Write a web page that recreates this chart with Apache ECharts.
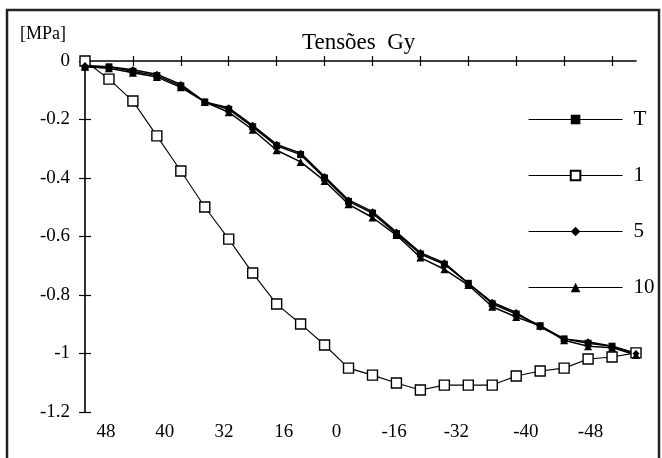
<!DOCTYPE html>
<html>
<head>
<meta charset="utf-8">
<script src="https://cdn.jsdelivr.net/npm/echarts@6/dist/echarts.min.js"></script>
<style>
html,body{margin:0;padding:0;background:#fff;}
#chart{width:662px;height:458px;}
</style>
</head>
<body>
<div id="chart"></div>
<script>
// categories: measurement points along the section
const categories = ['P1','P2','P3','P4','P5','P6','P7','P8','P9','P10','P11','P12',
                    'P13','P14','P15','P16','P17','P18','P19','P20','P21','P22','P23','P24'];

// series values [MPa]
const seriesT  = [-0.02, -0.02, -0.035, -0.05, -0.085, -0.14, -0.165, -0.225, -0.29, -0.32, -0.40, -0.48,
                  -0.52, -0.59, -0.66, -0.695, -0.76, -0.83, -0.865, -0.905, -0.95, -0.965, -0.975, -1.0];
const series1  = [0, -0.062, -0.137, -0.256, -0.376, -0.499, -0.609, -0.725, -0.831, -0.899, -0.971, -1.05,
                  -1.074, -1.101, -1.125, -1.108, -1.108, -1.108, -1.077, -1.06, -1.05, -1.019, -1.012, -0.998];
const series5  = [-0.015, -0.02, -0.03, -0.045, -0.08, -0.14, -0.16, -0.22, -0.285, -0.315, -0.395, -0.475,
                  -0.515, -0.585, -0.655, -0.69, -0.76, -0.825, -0.86, -0.91, -0.95, -0.96, -0.975, -1.0];
const series10 = [-0.02, -0.025, -0.04, -0.055, -0.09, -0.14, -0.175, -0.235, -0.305, -0.345, -0.41, -0.49,
                  -0.535, -0.595, -0.672, -0.712, -0.766, -0.84, -0.875, -0.905, -0.955, -0.975, -0.98, -1.005];

// bottom tick labels and their positions (in category-index units)
const xTickLabels = ['48', '40', '32', '16', '0', '-16', '-32', '-40', '-48'];
const xTickPos    = [0.875, 3.33, 5.8, 8.3, 10.5, 12.9, 15.5, 18.4, 21.1];

const seriesNames = ['T', '1', '5', '10'];

const FONT = 'Liberation Serif';
const INK = '#000';

const chart = echarts.init(document.getElementById('chart'), null, {renderer: 'canvas'});

const catAxisBase = {
  type: 'category',
  data: categories,
  position: 'top',
  boundaryGap: false,
  axisLabel: {show: false},
  splitLine: {show: false}
};

const valAxisBase = {
  type: 'value',
  min: -1.2,
  max: 0,
  interval: 0.2,
  position: 'left',
  splitLine: {show: false}
};

const option = {
  backgroundColor: '#fff',
  animation: false,
  title: {
    text: 'Tensões  Gy',
    left: 297,
    top: 26,
    textStyle: {fontFamily: FONT, fontSize: 23, fontWeight: 'normal', color: INK}
  },
  legend: {
    data: seriesNames,
    orient: 'vertical',
    left: 523,
    top: 104,
    itemWidth: 94,
    itemHeight: 12,
    itemGap: 35,
    lineStyle: {width: 1.1},
    textStyle: {fontFamily: FONT, fontSize: 21, color: INK, lineHeight: 20, padding: [0, 0, 0, 6]}
  },
  grid: {left: 85, right: 26, top: 61, bottom: 46, containLabel: false},
  xAxis: [
    Object.assign({}, catAxisBase, {
      axisLine: {show: true, lineStyle: {color: INK, width: 1.6}},
      axisTick: {show: true, inside: true, length: 5, lineStyle: {color: INK, width: 1.2}}
    }),
    Object.assign({}, catAxisBase, {
      axisLine: {show: false},
      axisTick: {show: true, inside: false, length: 5, lineStyle: {color: INK, width: 1.2}}
    }),
    {
      type: 'value',
      position: 'bottom',
      min: 0,
      max: categories.length - 1,
      axisLine: {show: false},
      axisTick: {show: false},
      splitLine: {show: false},
      axisLabel: {
        customValues: xTickPos,
        margin: 11,
        fontFamily: FONT,
        fontSize: 19,
        color: INK,
        formatter: function (v) {
          let best = 0;
          for (let i = 0; i < xTickPos.length; i++) {
            if (Math.abs(xTickPos[i] - v) < Math.abs(xTickPos[best] - v)) best = i;
          }
          return xTickLabels[best];
        }
      }
    }
  ],
  yAxis: [
    Object.assign({}, valAxisBase, {
      axisLine: {show: true, lineStyle: {color: INK, width: 1.6}},
      axisTick: {show: true, inside: false, length: 6, lineStyle: {color: INK, width: 1.2}},
      axisLabel: {margin: 15, fontFamily: FONT, fontSize: 19, color: INK}
    }),
    Object.assign({}, valAxisBase, {
      axisLine: {show: false},
      axisTick: {show: true, inside: true, length: 6, lineStyle: {color: INK, width: 1.2}},
      axisLabel: {show: false}
    })
  ],
  graphic: [
    {
      type: 'rect',
      shape: {x: 7, y: 10, width: 652, height: 470},
      style: {fill: 'none', stroke: '#222', lineWidth: 2.5},
      silent: true
    },
    {
      type: 'text',
      left: 20,
      top: 25,
      style: {text: '[MPa]', fontFamily: FONT, fontSize: 18, fill: INK}
    }
  ],
  series: [
    {
      name: 'T', type: 'line', data: seriesT,
      symbol: 'rect', symbolSize: 7,
      itemStyle: {color: INK},
      lineStyle: {color: INK, width: 1.5}
    },
    {
      name: '1', type: 'line', data: series1,
      symbol: 'rect', symbolSize: 10,
      itemStyle: {color: '#fff', borderColor: INK, borderWidth: 1.4},
      lineStyle: {color: INK, width: 1.1}
    },
    {
      name: '5', type: 'line', data: series5,
      symbol: 'diamond', symbolSize: 7,
      itemStyle: {color: INK},
      lineStyle: {color: INK, width: 1.5}
    },
    {
      name: '10', type: 'line', data: series10,
      symbol: 'triangle', symbolSize: 8,
      itemStyle: {color: INK},
      lineStyle: {color: INK, width: 1.5}
    }
  ]
};

chart.setOption(option);
</script>
</body>
</html>
